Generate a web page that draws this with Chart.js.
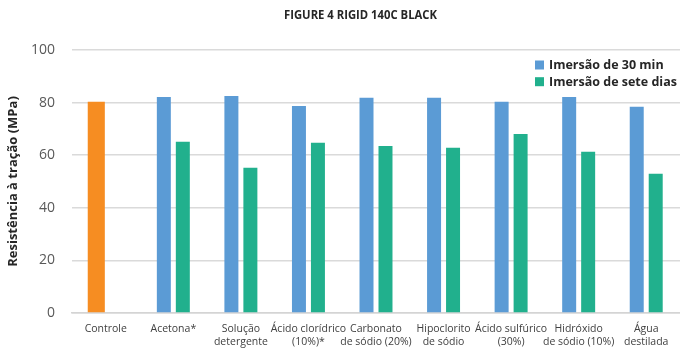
<!DOCTYPE html>
<html>
<head>
<meta charset="utf-8">
<script src="https://cdn.jsdelivr.net/npm/chart.js@4/dist/chart.umd.min.js"></script>
<style>
  html, body { margin: 0; padding: 0; background: #ffffff; }
  #wrap { width: 680px; height: 349px; position: relative; }
</style>
</head>
<body>
<div id="wrap"><canvas id="chart"></canvas></div>
<script>
// Tensile strength of Rigid 140C Black after chemical immersion
const chartTitle = 'FIGURE 4 RIGID 140C BLACK';
const yAxisTitle = 'Resistência à tração (MPa)';
const categories = [
  'Controle',
  'Acetona*',
  ['Solução', 'detergente'],
  ['Ácido clorídrico', '(10%)*'],
  ['Carbonato', 'de sódio (20%)'],
  ['Hipoclorito', 'de sódio'],
  ['Ácido sulfúrico', '(30%)'],
  ['Hidróxido', 'de sódio (10%)'],
  ['Água', 'destilada']
];
const controlValues   = [80.3, null, null, null, null, null, null, null, null];
const immersion30min  = [null, 82.1, 82.5, 78.7, 81.8, 81.8, 80.3, 82.1, 78.4];
const immersion7days  = [null, 65.1, 55.2, 64.7, 63.5, 62.8, 68.1, 61.3, 52.9];
const yTicks = [0, 20, 40, 60, 80, 100];

const seriesNames = ['Controle', 'Imersão de 30 min', 'Imersão de sete dias'];
const seriesColors = ['#F68D22', '#5B9BD5', '#21B08D'];

// Title and in-plot legend
const decorations = {
  id: 'decorations',
  afterDraw(chart) {
    const ctx = chart.ctx;
    ctx.save();
    // title
    ctx.font = 'bold 11.5px "Open Sans"';
    ctx.fillStyle = '#262626';
    ctx.textBaseline = 'middle';
    ctx.textAlign = 'center';
    const w = ctx.measureText(chartTitle).width;
    const target = 153;
    const sx = w > target ? target / w : 1;
    ctx.translate(360.5, 16);
    ctx.scale(sx, 1);
    ctx.fillText(chartTitle, 0, 0);
    ctx.restore();

    // legend entries (the control bar has none)
    ctx.save();
    ctx.font = 'bold 12.5px "Open Sans"';
    ctx.textBaseline = 'middle';
    ctx.textAlign = 'left';
    let row = 0;
    chart.data.datasets.forEach((ds) => {
      if (ds.label === 'Controle') return;
      const cy = 65 + row * 16.7;
      ctx.fillStyle = ds.backgroundColor;
      ctx.fillRect(535, cy - 4.5, 9, 9);
      ctx.fillStyle = '#262626';
      ctx.fillText(ds.label, 549, cy + 0.5);
      row++;
    });
    ctx.restore();
  }
};

new Chart(document.getElementById('chart'), {
  type: 'bar',
  data: {
    labels: categories,
    datasets: [
      { label: seriesNames[0], data: controlValues,  backgroundColor: seriesColors[0], stack: 'a', barPercentage: 0.9, categoryPercentage: 0.562 },
      { label: seriesNames[1], data: immersion30min, backgroundColor: seriesColors[1], stack: 'a', barPercentage: 0.737, categoryPercentage: 0.562 },
      { label: seriesNames[2], data: immersion7days, backgroundColor: seriesColors[2], stack: 'b', barPercentage: 0.737, categoryPercentage: 0.562 }
    ]
  },
  options: {
    responsive: true,
    maintainAspectRatio: false,
    animation: false,
    layout: { padding: { top: 50, left: 0, right: 0, bottom: 0 } },
    plugins: {
      legend: { display: false },
      title: { display: false },
      tooltip: { enabled: false }
    },
    scales: {
      x: {
        offset: true,
        grid: { display: false, drawTicks: false },
        border: { display: true, color: '#d4d4d4', width: 1.5 },
        ticks: {
          color: '#404040',
          font: { family: '"Open Sans"', size: 10.5, lineHeight: 1.3 },
          padding: 9,
          maxRotation: 0,
          autoSkip: false
        },
        afterFit(scale) { scale.height = 36; }
      },
      y: {
        min: 0,
        max: 100,
        afterBuildTicks(scale) { scale.ticks = yTicks.map(v => ({ value: v })); },
        grid: { color: '#dadada', lineWidth: 1.5, drawTicks: false },
        border: { display: false },
        ticks: {
          color: '#595959',
          font: { family: '"Open Sans"', size: 14 },
          padding: 17
        },
        title: {
          display: true,
          text: yAxisTitle,
          color: '#262626',
          font: { family: '"Open Sans"', size: 13, weight: 'bold' },
          padding: { top: 5, bottom: 0 }
        },
        afterFit(scale) { scale.width = 72; }
      }
    }
  },
  plugins: [decorations]
});
</script>
</body>
</html>
